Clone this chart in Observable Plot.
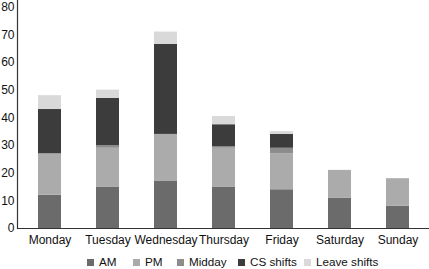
<!DOCTYPE html>
<html>
<head>
<meta charset="utf-8">
<script src="https://cdn.jsdelivr.net/npm/d3@7"></script>
<script src="https://cdn.jsdelivr.net/npm/@observablehq/plot@0.6"></script>
<style>
  html, body { margin: 0; padding: 0; background: #fff; }
  body { position: relative; width: 429px; height: 269px; overflow: hidden; font-family: "Liberation Sans", Arial, Helvetica, sans-serif; }
  #legend { position: absolute; left: 0; top: 253px; width: 429px; height: 16px; font-size: 11.7px; color: #111; }
  #legend .item { position: absolute; top: 0; display: flex; align-items: center; height: 16px; white-space: nowrap; }
  #legend .sw { width: 7px; height: 7px; margin-right: 5px; margin-top: 2px; }
</style>
</head>
<body>
<div id="chart"></div>
<div id="legend"></div>
<script>
const days = ["Monday", "Tuesday", "Wednesday", "Thursday", "Friday", "Saturday", "Sunday"];
const series = ["AM", "PM", "Midday", "CS shifts", "Leave shifts"];
const colors = ["#6b6b6b", "#ababab", "#8c8c8c", "#3c3c3c", "#d9d9d9"];
const am     = [12, 15, 17, 15, 14, 11, 8];
const pm     = [15, 14, 17, 14, 13, 10, 10];
const midday = [0, 1, 0, 0.5, 2, 0, 0];
const cs     = [16, 17, 32.5, 8, 5, 0, 0];
const leave  = [5, 3, 4.5, 3, 1, 0, 0];
const yTicks = [0, 10, 20, 30, 40, 50, 60, 70, 80];

// legend layout (pixel left edge of each swatch)
const legendLeft = [87, 133, 177, 238, 304];

const valuesBySeries = [am, pm, midday, cs, leave];
const rows = [];
days.forEach((d, i) => {
  series.forEach((s, j) => rows.push({day: d, series: s, value: valuesBySeries[j][i]}));
});

const chart = Plot.plot({
  width: 429,
  height: 250,
  marginTop: 0,
  marginLeft: 17,
  marginRight: 0,
  marginBottom: 22,
  style: {fontFamily: '"Liberation Sans", Arial, Helvetica, sans-serif', fontSize: "12px", color: "#111"},
  x: {domain: days, paddingInner: 0.61, paddingOuter: 0.305, label: null},
  y: {domain: [0, 82.4], label: null},
  color: {domain: series, range: colors},
  marks: [
    Plot.barY(rows, {x: "day", y: "value", fill: "series", order: series}),
    Plot.axisX({tickSize: 0, tickPadding: 7, fontSize: 12}),
    Plot.axisY({ticks: yTicks, tickSize: 0, tickPadding: 3, fontSize: 12}),
    Plot.frame({anchor: "left", stroke: "#333", strokeWidth: 1.2}),
    Plot.ruleY([0], {stroke: "#333", strokeWidth: 1.2})
  ]
});
document.getElementById("chart").appendChild(chart);

const legend = document.getElementById("legend");
series.forEach((s, j) => {
  const item = document.createElement("div");
  item.className = "item";
  item.style.left = legendLeft[j] + "px";
  const sw = document.createElement("div");
  sw.className = "sw";
  sw.style.background = colors[j];
  const label = document.createElement("span");
  label.textContent = s;
  item.appendChild(sw);
  item.appendChild(label);
  legend.appendChild(item);
});
</script>
</body>
</html>
